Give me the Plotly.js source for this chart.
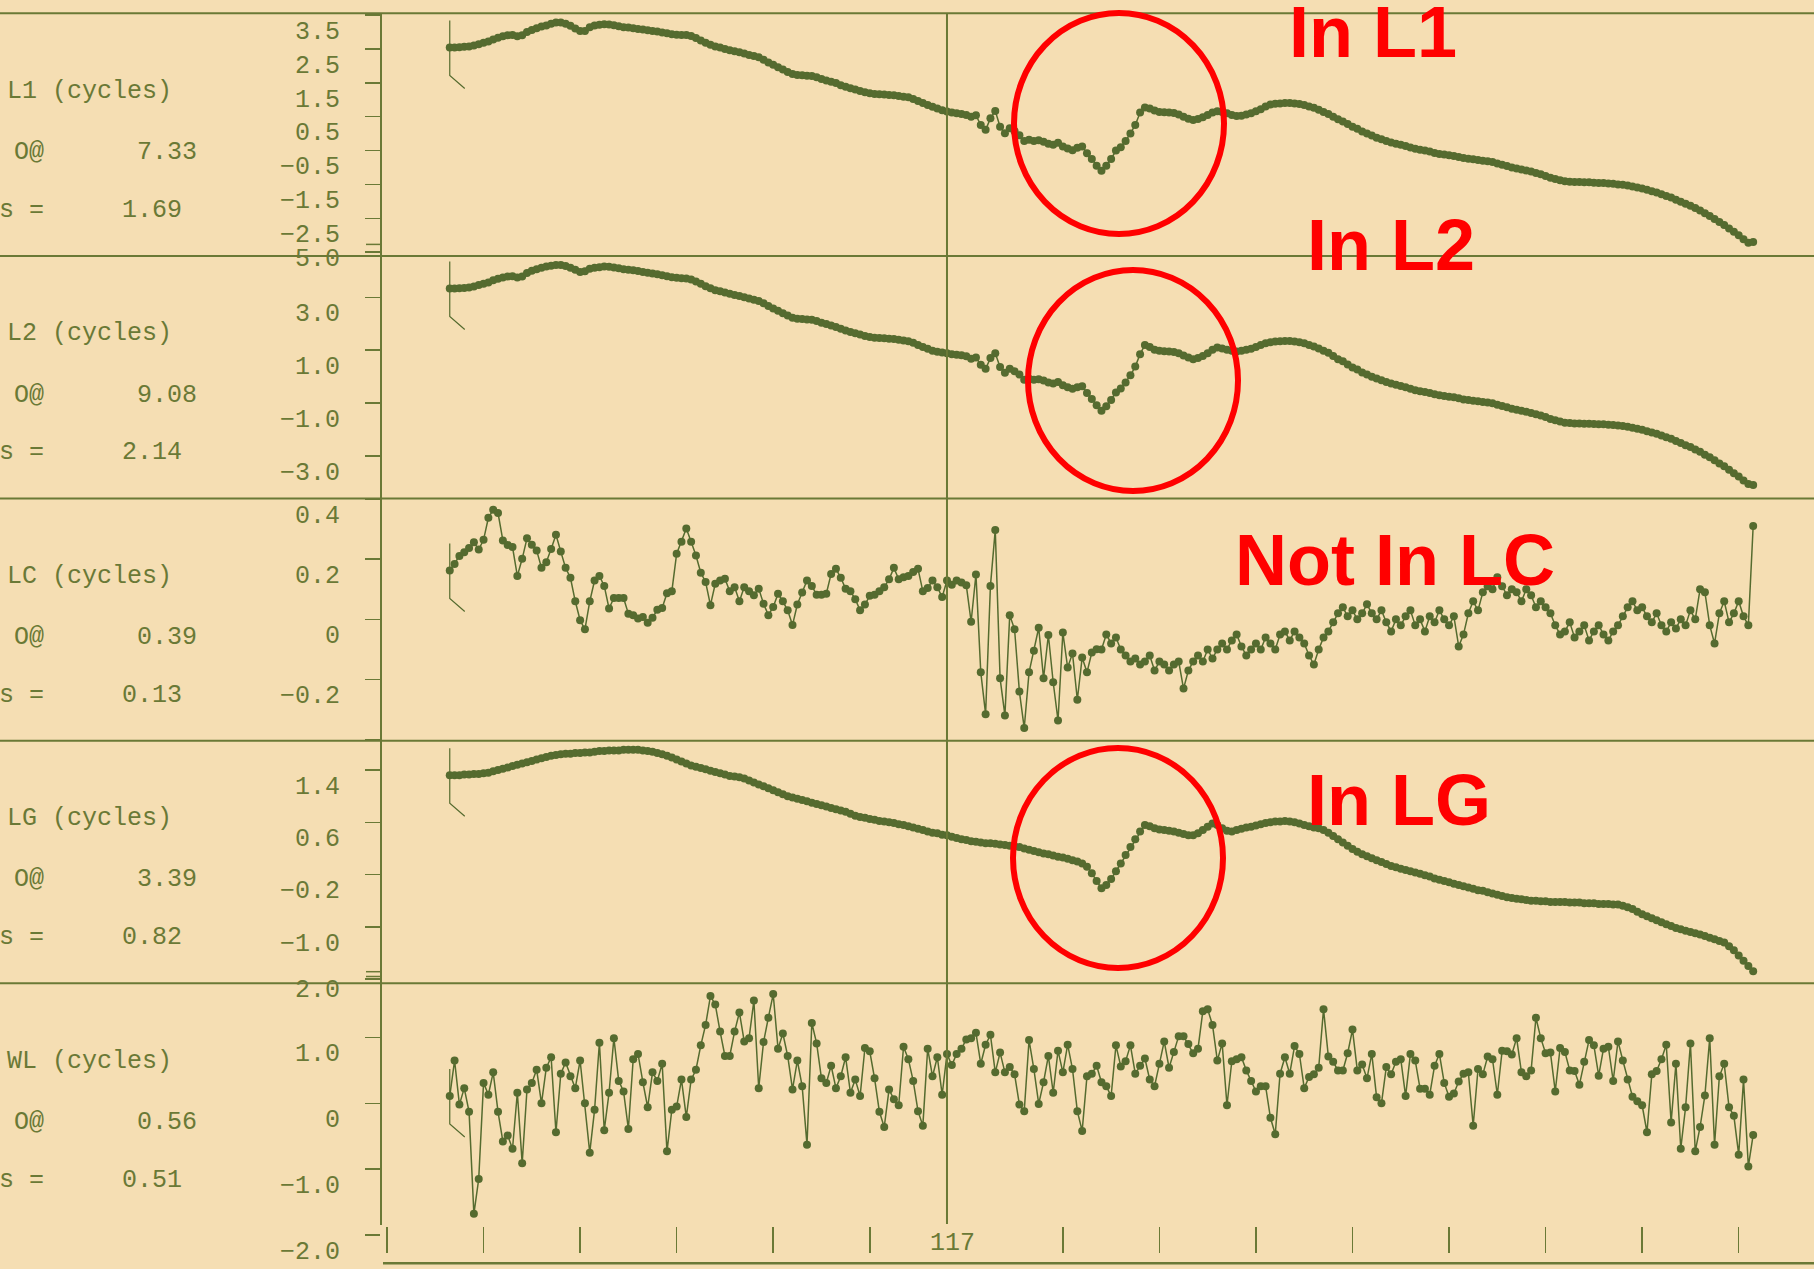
<!DOCTYPE html>
<html><head><meta charset="utf-8">
<script src="https://cdn.plot.ly/plotly-3.0.1.min.js"></script>
<style>html,body{margin:0;padding:0;background:#f5deb3;}#chart{width:1814px;height:1269px;}</style>
</head><body><div id="chart"></div>
<script>
// ---------- data ----------
const firstEpoch = 14;
const markerEpoch = 117;
const markerLabel = '117';
const xTickEpochs = [1,21,41,61,81,101,141,161,181,201,221,241,261,281];

const L1 = [
2.54,2.54,2.55,2.56,2.57,2.60,2.64,2.68,2.72,2.78,
2.83,2.87,2.90,2.91,2.87,2.90,3.00,3.06,3.11,3.16,
3.19,3.24,3.28,3.28,3.24,3.18,3.10,3.03,3.03,3.14,
3.19,3.21,3.23,3.22,3.20,3.17,3.14,3.13,3.11,3.09,
3.07,3.05,3.03,3.01,2.98,2.96,2.93,2.92,2.91,2.91,
2.88,2.82,2.75,2.68,2.62,2.57,2.54,2.50,2.46,2.43,
2.40,2.36,2.32,2.29,2.25,2.18,2.10,2.03,1.96,1.89,
1.82,1.76,1.73,1.72,1.71,1.70,1.66,1.61,1.57,1.53,
1.49,1.43,1.38,1.34,1.30,1.26,1.22,1.19,1.17,1.16,
1.15,1.14,1.13,1.11,1.09,1.07,1.02,0.96,0.90,0.84,
0.79,0.74,0.69,0.65,0.62,0.60,0.58,0.55,0.50,0.54,
0.25,0.11,0.45,0.67,0.20,0.01,0.16,0.07,-0.05,-0.22,
-0.18,-0.22,-0.20,-0.24,-0.30,-0.33,-0.27,-0.38,-0.44,-0.49,
-0.42,-0.38,-0.58,-0.75,-0.95,-1.10,-0.95,-0.75,-0.50,-0.40,
-0.22,0.00,0.25,0.62,0.77,0.74,0.68,0.64,0.63,0.62,
0.61,0.56,0.50,0.44,0.40,0.43,0.48,0.55,0.62,0.66,
0.64,0.60,0.55,0.52,0.53,0.56,0.60,0.66,0.72,0.80,
0.86,0.88,0.89,0.90,0.90,0.89,0.87,0.84,0.80,0.76,
0.70,0.64,0.58,0.50,0.42,0.36,0.28,0.20,0.14,0.06,
0.00,-0.06,-0.12,-0.17,-0.22,-0.26,-0.30,-0.33,-0.37,-0.41,
-0.45,-0.48,-0.50,-0.53,-0.57,-0.60,-0.62,-0.64,-0.66,-0.69,
-0.72,-0.74,-0.76,-0.78,-0.80,-0.82,-0.84,-0.88,-0.92,-0.96,
-1.00,-1.03,-1.06,-1.09,-1.12,-1.16,-1.20,-1.25,-1.30,-1.34,
-1.38,-1.41,-1.42,-1.43,-1.43,-1.44,-1.44,-1.45,-1.46,-1.46,
-1.47,-1.48,-1.50,-1.51,-1.53,-1.56,-1.59,-1.62,-1.66,-1.70,
-1.74,-1.79,-1.84,-1.89,-1.95,-2.01,-2.07,-2.13,-2.20,-2.27,
-2.35,-2.43,-2.52,-2.61,-2.70,-2.80,-2.90,-3.00,-3.12,-3.22,
-3.20];

const L2 = [
3.33,3.33,3.34,3.35,3.37,3.41,3.46,3.51,3.56,3.64,
3.70,3.75,3.79,3.80,3.75,3.79,3.92,4.00,4.06,4.12,
4.16,4.19,4.22,4.22,4.18,4.12,4.04,3.96,3.98,4.08,
4.12,4.14,4.16,4.15,4.13,4.10,4.06,4.04,4.02,3.99,
3.96,3.93,3.90,3.87,3.83,3.80,3.76,3.74,3.72,3.71,
3.67,3.60,3.51,3.42,3.34,3.27,3.23,3.18,3.13,3.09,
3.05,3.00,2.95,2.91,2.86,2.77,2.67,2.58,2.49,2.40,
2.31,2.23,2.19,2.18,2.16,2.15,2.10,2.04,1.99,1.93,
1.88,1.81,1.74,1.69,1.64,1.59,1.54,1.50,1.47,1.46,
1.45,1.43,1.42,1.39,1.37,1.34,1.28,1.20,1.12,1.05,
0.98,0.94,0.91,0.88,0.85,0.83,0.81,0.77,0.68,0.72,
0.45,0.30,0.70,0.88,0.36,0.15,0.30,0.20,0.08,-0.12,
-0.08,-0.12,-0.10,-0.15,-0.22,-0.26,-0.20,-0.33,-0.40,-0.46,
-0.40,-0.36,-0.62,-0.85,-1.08,-1.29,-1.12,-0.88,-0.60,-0.45,
-0.22,0.05,0.38,0.85,1.20,1.12,1.02,0.98,0.96,0.95,
0.93,0.88,0.80,0.72,0.66,0.70,0.78,0.88,1.02,1.10,
1.06,1.02,0.98,0.95,0.98,1.02,1.05,1.12,1.20,1.26,
1.30,1.33,1.34,1.35,1.35,1.33,1.30,1.26,1.20,1.14,
1.06,0.98,0.90,0.78,0.66,0.58,0.46,0.35,0.27,0.16,
0.08,0.00,-0.07,-0.14,-0.20,-0.26,-0.31,-0.35,-0.40,-0.46,
-0.51,-0.55,-0.58,-0.62,-0.67,-0.70,-0.73,-0.76,-0.78,-0.82,
-0.86,-0.88,-0.91,-0.93,-0.96,-0.98,-1.01,-1.06,-1.11,-1.16,
-1.21,-1.25,-1.29,-1.33,-1.37,-1.42,-1.47,-1.53,-1.60,-1.65,
-1.70,-1.74,-1.75,-1.77,-1.77,-1.78,-1.78,-1.79,-1.80,-1.80,
-1.82,-1.83,-1.85,-1.87,-1.89,-1.93,-1.97,-2.01,-2.06,-2.11,
-2.16,-2.23,-2.29,-2.35,-2.43,-2.51,-2.59,-2.66,-2.75,-2.84,
-2.95,-3.05,-3.16,-3.28,-3.39,-3.52,-3.65,-3.78,-3.93,-4.06,
-4.10];

const LC = [
0.162,0.184,0.210,0.223,0.237,0.256,0.232,0.264,0.337,0.364,
0.353,0.262,0.247,0.240,0.144,0.201,0.269,0.248,0.229,0.171,
0.190,0.234,0.281,0.225,0.171,0.138,0.060,-0.003,-0.033,0.060,
0.129,0.144,0.111,0.036,0.071,0.071,0.071,0.019,0.014,0.003,
0.008,-0.011,0.005,0.032,0.038,0.087,0.093,0.218,0.258,0.302,
0.258,0.212,0.155,0.124,0.047,0.118,0.129,0.135,0.093,0.107,
0.060,0.107,0.093,0.080,0.102,0.052,0.014,0.041,0.085,0.060,
0.030,-0.019,0.049,0.089,0.129,0.111,0.082,0.082,0.085,0.151,
0.168,0.138,0.102,0.093,0.067,0.030,0.049,0.078,0.082,0.093,
0.107,0.133,0.171,0.133,0.140,0.144,0.157,0.168,0.093,0.104,
0.129,0.107,0.074,0.129,0.115,0.129,0.122,0.113,-0.008,0.149,
-0.176,-0.315,0.111,0.297,-0.196,-0.319,0.014,-0.033,-0.240,-0.361,
-0.176,-0.104,-0.028,-0.196,-0.052,-0.209,-0.336,-0.044,-0.160,-0.113,
-0.267,-0.127,-0.176,-0.110,-0.099,-0.10,-0.05,-0.08,-0.06,-0.10,
-0.12,-0.14,-0.13,-0.15,-0.14,-0.12,-0.17,-0.14,-0.15,-0.17,
-0.15,-0.14,-0.23,-0.17,-0.14,-0.12,-0.14,-0.10,-0.13,-0.10,
-0.08,-0.10,-0.07,-0.05,-0.09,-0.12,-0.10,-0.08,-0.10,-0.06,
-0.08,-0.10,-0.05,-0.04,-0.07,-0.04,-0.06,-0.08,-0.12,-0.15,
-0.10,-0.06,-0.04,-0.01,0.02,0.04,0.01,0.03,0.00,0.02,
0.05,0.02,0.00,0.03,-0.01,-0.04,0.00,-0.02,0.01,0.03,
-0.02,0.00,-0.04,0.01,-0.01,0.03,0.00,-0.02,0.01,-0.09,
-0.05,0.02,0.06,0.03,0.09,0.11,0.10,0.14,0.11,0.08,
0.10,0.09,0.06,0.10,0.08,0.04,0.06,0.04,0.02,-0.02,
-0.05,-0.04,-0.01,-0.06,-0.04,-0.02,-0.07,-0.04,-0.02,-0.05,
-0.07,-0.04,-0.02,0.01,0.04,0.06,0.03,0.04,0.01,-0.01,
0.02,-0.02,-0.04,-0.01,-0.03,0.00,-0.02,0.03,0.00,0.10,
0.09,-0.02,-0.08,0.02,0.06,-0.01,0.02,0.06,0.01,-0.02,
0.31];

const LG = [
1.32,1.32,1.32,1.33,1.33,1.34,1.34,1.35,1.36,1.38,
1.40,1.42,1.44,1.46,1.48,1.50,1.52,1.54,1.56,1.58,
1.60,1.62,1.63,1.64,1.65,1.65,1.66,1.66,1.67,1.67,
1.68,1.69,1.69,1.70,1.70,1.70,1.71,1.71,1.71,1.71,
1.70,1.69,1.68,1.66,1.64,1.62,1.59,1.56,1.53,1.50,
1.47,1.45,1.43,1.41,1.39,1.37,1.35,1.33,1.31,1.30,
1.29,1.27,1.24,1.21,1.18,1.15,1.12,1.09,1.06,1.03,
1.00,0.98,0.96,0.94,0.92,0.90,0.88,0.86,0.84,0.82,
0.80,0.78,0.76,0.73,0.70,0.68,0.67,0.65,0.64,0.62,
0.61,0.60,0.59,0.57,0.56,0.54,0.52,0.50,0.48,0.46,
0.44,0.43,0.41,0.40,0.38,0.36,0.34,0.33,0.31,0.30,
0.29,0.28,0.28,0.27,0.26,0.25,0.24,0.23,0.22,0.20,
0.18,0.16,0.14,0.12,0.11,0.09,0.07,0.06,0.04,0.02,
0.00,-0.03,-0.08,-0.18,-0.30,-0.41,-0.36,-0.27,-0.15,-0.03,
0.10,0.22,0.34,0.46,0.56,0.54,0.51,0.49,0.48,0.47,
0.46,0.44,0.42,0.40,0.40,0.43,0.48,0.53,0.58,0.56,
0.51,0.47,0.46,0.48,0.50,0.52,0.53,0.55,0.57,0.59,
0.60,0.61,0.61,0.62,0.61,0.60,0.58,0.56,0.54,0.52,
0.51,0.48,0.44,0.39,0.34,0.29,0.24,0.19,0.15,0.11,
0.08,0.05,0.02,-0.01,-0.04,-0.07,-0.09,-0.11,-0.13,-0.15,
-0.17,-0.19,-0.21,-0.23,-0.26,-0.28,-0.30,-0.32,-0.34,-0.36,
-0.38,-0.40,-0.42,-0.44,-0.45,-0.47,-0.49,-0.51,-0.53,-0.55,
-0.56,-0.57,-0.58,-0.59,-0.60,-0.60,-0.61,-0.61,-0.62,-0.62,
-0.62,-0.62,-0.63,-0.63,-0.63,-0.64,-0.64,-0.64,-0.65,-0.65,
-0.65,-0.66,-0.66,-0.68,-0.70,-0.73,-0.77,-0.81,-0.84,-0.87,
-0.90,-0.93,-0.96,-0.99,-1.02,-1.04,-1.06,-1.08,-1.10,-1.12,
-1.14,-1.17,-1.19,-1.22,-1.24,-1.30,-1.36,-1.44,-1.52,-1.60,
-1.68];

const WL = [
0.11,0.65,-0.02,0.23,-0.13,-1.68,-1.15,0.31,0.13,0.47,
-0.13,-0.58,-0.49,-0.69,0.16,-0.91,0.21,0.31,0.51,0.00,
0.54,0.70,-0.44,0.45,0.62,0.41,0.23,0.65,0.00,-0.75,
-0.10,0.92,-0.41,0.16,0.99,0.34,0.18,-0.39,0.67,0.75,
0.32,-0.06,0.47,0.34,0.60,-0.73,-0.10,-0.05,0.36,-0.21,
0.36,0.51,0.88,1.19,1.63,1.50,1.09,0.72,0.72,1.09,
1.38,0.94,0.99,1.56,0.23,0.93,1.30,1.66,0.83,1.06,
0.72,0.21,0.65,0.26,-0.63,1.22,0.91,0.38,0.31,0.57,
0.23,0.41,0.70,0.16,0.36,0.11,0.84,0.79,0.38,-0.13,
-0.36,0.21,0.06,-0.03,0.86,0.67,0.34,-0.12,-0.34,0.83,
0.41,0.70,0.13,0.75,0.58,0.75,0.83,0.97,0.99,1.07,
0.60,0.89,1.04,0.47,0.77,0.47,0.55,0.44,-0.02,-0.12,
0.96,0.52,-0.01,0.32,0.72,0.16,0.80,0.47,0.89,0.52,
-0.12,-0.42,0.41,0.45,0.57,0.32,0.26,0.11,0.88,0.56,
0.64,0.88,0.45,0.57,0.68,0.36,0.26,0.60,0.94,0.54,
0.78,1.02,1.02,0.90,0.76,0.83,1.40,1.43,1.19,0.65,
0.91,-0.03,0.64,0.67,0.70,0.50,0.34,0.18,0.26,0.26,
-0.22,-0.47,0.45,0.70,0.45,0.87,0.75,0.23,0.40,0.44,
0.54,
1.43,0.71,0.63,0.50,0.50,0.76,1.12,0.50,0.59,0.38,
0.75,0.09,0.00,0.55,0.44,0.63,0.67,0.11,0.75,0.65,
0.22,0.22,0.13,0.57,0.75,0.31,0.10,0.15,0.33,0.45,
0.47,-0.34,0.52,0.44,0.71,0.67,0.13,0.80,0.79,0.74,
0.99,0.47,0.41,0.50,1.30,0.99,0.76,0.77,0.18,0.84,
0.78,0.50,0.49,0.28,0.63,0.96,0.88,0.42,0.83,0.86,
0.34,0.94,0.65,0.36,0.10,0.03,-0.03,-0.44,0.44,0.49,
0.67,0.89,-0.29,0.60,-0.69,-0.06,0.91,-0.73,-0.36,0.12,
0.99,-0.63,0.41,0.60,-0.06,-0.19,-0.78,0.36,-0.96,-0.48];

const seriesNames = ['L1 (cycles)','L2 (cycles)','LC (cycles)','LG (cycles)','WL (cycles)'];
const statA = ['7.33','9.08','0.39','3.39','0.56'];
const statB = ['1.69','2.14','0.13','0.82','0.51'];

const tickSets = [
  {vals:[3.5,2.5,1.5,0.5,-0.5,-1.5,-2.5,-3.5], text:['3.5','2.5','1.5','0.5','\u22120.5','\u22121.5','\u22122.5','']},
  {vals:[3,1,-1,-3], text:['3.0','1.0','\u22121.0','\u22123.0']},
  {vals:[0.4,0.2,0,-0.2,-0.4], text:['0.4','0.2','0','\u22120.2','']},
  {vals:[1.4,0.6,-0.2,-1.0,-1.8], text:['1.4','0.6','\u22120.2','\u22121.0','']},
  {vals:[1,0,-1,-2], text:['1.0','0','\u22121.0','\u22122.0']}
];
const yRanges = [[-3.613,3.550],[-4.611,4.561],[-0.403,0.401],[-1.866,1.849],[-2.077,1.823]];

const notes = [
  {text:'In L1', cx:1373, cy:32},
  {text:'In L2', cx:1391, cy:245},
  {text:'Not In LC', cx:1395, cy:560},
  {text:'In LG', cx:1399, cy:800}
];
const rings = [
  {x0:1014,x1:1224,y0:13,y1:234},
  {x0:1028,x1:1238,y0:270,y1:491},
  {x0:1013,x1:1223,y0:748,y1:968}
];

// ---------- layout geometry (pixels) ----------
const W = 1814, H = 1269, PL = 381, PW = W - PL;
const px2x = p => (p - PL) / PW;
const px2y = p => 1 - p / H;
const panelTop = [13.3, 256, 498.6, 740.7, 983.3];
const panelBot = [256, 498.6, 740.7, 983.3, 1240];
const OLIVE = '#556b2f';
const AX = '#6a7936';
const MONO = 'Liberation Mono, DejaVu Sans Mono, monospace';

const series = [L1, L2, LC, LG, WL];
const epochs = L1.map((_, i) => firstEpoch + i);

const traces = series.map((s, i) => ({
  x: epochs, y: s, type: 'scatter', mode: 'lines+markers',
  xaxis: 'x', yaxis: i === 0 ? 'y' : 'y' + (i + 1),
  line: {color: OLIVE, width: 1.5},
  marker: {color: OLIVE, size: 8},
  hoverinfo: 'skip', showlegend: false
}));

const layout = {
  width: W, height: H,
  margin: {l: PL, r: 0, t: 0, b: 0, pad: 0},
  paper_bgcolor: '#f5deb3', plot_bgcolor: '#f5deb3',
  showlegend: false, hovermode: false,
  xaxis: {
    domain: [0, 1], range: [-0.2429, 296.6], anchor: 'free', position: px2y(1226),
    showgrid: false, zeroline: false, showline: false,
    tickmode: 'array', tickvals: xTickEpochs, ticks: 'outside', ticklen: 26,
    tickwidth: 1.5, tickcolor: AX, showticklabels: false
  },
  shapes: [], annotations: []
};

series.forEach((s, i) => {
  const key = i === 0 ? 'yaxis' : 'yaxis' + (i + 1);
  layout[key] = {
    domain: [px2y(panelBot[i]), px2y(panelTop[i])],
    range: yRanges[i], anchor: 'x',
    showgrid: false, zeroline: false, showline: false,
    tickmode: 'array', tickvals: tickSets[i].vals, ticktext: tickSets[i].text,
    ticks: 'outside', ticklen: 15, tickwidth: 1.5, tickcolor: AX,
    tickfont: {family: MONO, size: 25, color: AX},
    ticklabelshift: 15, ticklabelstandoff: 20
  };
  layout.shapes.push({type: 'line', xref: 'paper', yref: 'paper',
    x0: px2x(0), x1: 1, y0: px2y(panelTop[i]), y1: px2y(panelTop[i]),
    line: {color: AX, width: 2}});
  layout.shapes.push({type: 'path', xref: 'x', yref: i === 0 ? 'y' : 'y' + (i + 1),
    xsizemode: 'pixel', ysizemode: 'pixel', xanchor: epochs[0], yanchor: s[0],
    path: 'M0,27 L0,-28 L15,-41', line: {color: OLIVE, width: 1.2}});
  const tops = panelTop[i];
  layout.annotations.push({xref: 'paper', yref: 'paper', x: px2x(5), y: px2y(tops + 78),
    xanchor: 'left', yanchor: 'middle', text: seriesNames[i], showarrow: false,
    font: {family: MONO, size: 25, color: AX}});
  layout.annotations.push({xref: 'paper', yref: 'paper', x: px2x(12), y: px2y(tops + 139),
    xanchor: 'left', yanchor: 'middle', text: 'O@', showarrow: false,
    font: {family: MONO, size: 25, color: AX}});
  layout.annotations.push({xref: 'paper', yref: 'paper', x: px2x(199), y: px2y(tops + 139),
    xanchor: 'right', yanchor: 'middle', text: statA[i], showarrow: false,
    font: {family: MONO, size: 25, color: AX}});
  layout.annotations.push({xref: 'paper', yref: 'paper', x: px2x(-3), y: px2y(tops + 197),
    xanchor: 'left', yanchor: 'middle', text: 's =', showarrow: false,
    font: {family: MONO, size: 25, color: AX}});
  layout.annotations.push({xref: 'paper', yref: 'paper', x: px2x(184), y: px2y(tops + 197),
    xanchor: 'right', yanchor: 'middle', text: statB[i], showarrow: false,
    font: {family: MONO, size: 25, color: AX}});
});

layout.shapes.push({type: 'line', xref: 'paper', yref: 'paper', x0: 0, x1: 0,
  y0: px2y(1225), y1: px2y(13.3), line: {color: AX, width: 2}});
layout.shapes.push({type: 'line', xref: 'paper', yref: 'paper', x0: px2x(383), x1: 1,
  y0: px2y(1263.3), y1: px2y(1263.3), line: {color: AX, width: 2.5}});
layout.shapes.push({type: 'line', xref: 'x', yref: 'paper', x0: markerEpoch, x1: markerEpoch,
  y0: px2y(1224), y1: px2y(13.3), line: {color: AX, width: 2}});
[244.4, 971.7, 976.5].forEach(py => layout.shapes.push({type: 'line', xref: 'paper', yref: 'paper',
  x0: px2x(366), x1: 0, y0: px2y(py), y1: px2y(py), line: {color: AX, width: 1.5}}));
layout.annotations.push({xref: 'paper', yref: 'paper', x: px2x(342), y: px2y(260),
  xanchor: 'right', yanchor: 'middle', text: '5.0', showarrow: false, font: {family: MONO, size: 25, color: AX}});
layout.annotations.push({xref: 'paper', yref: 'paper', x: px2x(342), y: px2y(990),
  xanchor: 'right', yanchor: 'middle', text: '2.0', showarrow: false, font: {family: MONO, size: 25, color: AX}});
layout.annotations.push({xref: 'x', yref: 'paper', x: markerEpoch, xshift: 6, y: px2y(1243),
  xanchor: 'center', yanchor: 'middle', text: markerLabel, showarrow: false, font: {family: MONO, size: 25, color: AX}});

rings.forEach(r => layout.shapes.push({type: 'circle', xref: 'paper', yref: 'paper',
  x0: px2x(r.x0), x1: px2x(r.x1), y0: px2y(r.y1), y1: px2y(r.y0),
  line: {color: '#ff0000', width: 6}, fillcolor: 'rgba(0,0,0,0)'}));
notes.forEach(n => layout.annotations.push({xref: 'paper', yref: 'paper',
  x: px2x(n.cx), y: px2y(n.cy), xanchor: 'center', yanchor: 'middle',
  text: '<b>' + n.text + '</b>', showarrow: false,
  font: {family: 'Liberation Sans, Arial, sans-serif', size: 72, color: '#ff0000'}}));

Plotly.newPlot('chart', traces, layout, {staticPlot: true, displayModeBar: false});
</script>
</body></html>
